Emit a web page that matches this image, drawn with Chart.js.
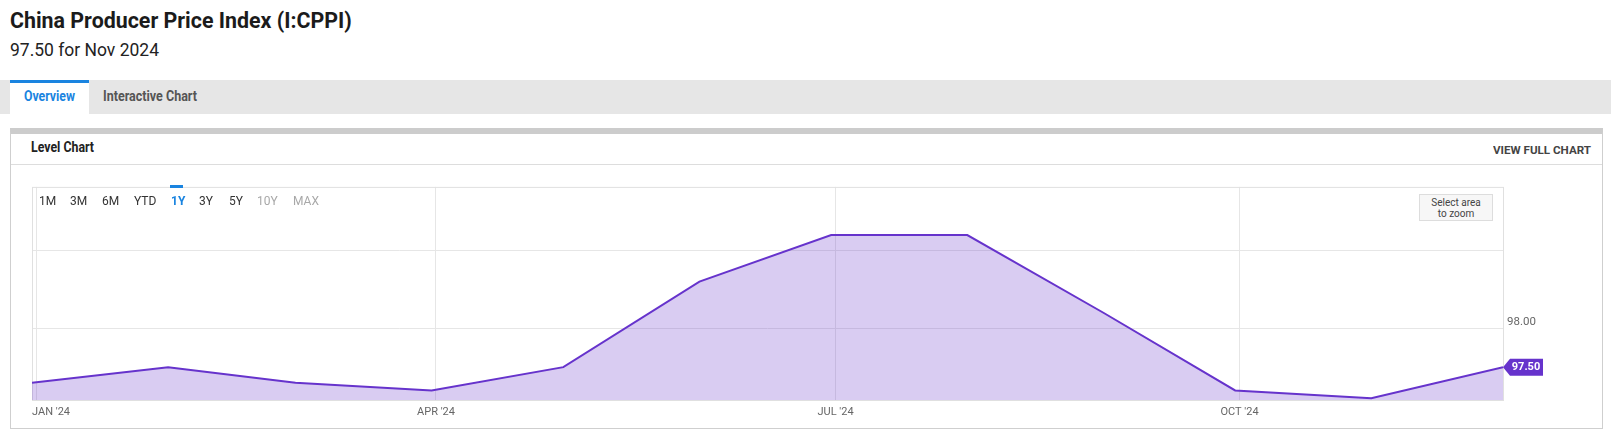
<!DOCTYPE html>
<html>
<head>
<meta charset="utf-8">
<script src="https://cdn.jsdelivr.net/npm/chart.js@4.4.0/dist/chart.umd.min.js"></script>
<style>
    body { margin: 0; width: 1611px; height: 446px; background: #fff; position: relative; overflow: hidden;
           font-family: Roboto, 'Noto Sans', sans-serif; color: #222; }
    .abs { position: absolute; white-space: nowrap; }
    .fit { transform-origin: 0 50%; }
    .tabbar { left: 0; top: 80px; width: 1611px; height: 34px; background: #e6e6e6; }
    .tab-on { left: 10px; top: 80px; width: 79px; height: 34px; background: #fff; border-top: 3px solid #1a84e0; box-sizing: border-box; }
    .panel { left: 10px; top: 128px; width: 1591px; height: 294px; border: 1px solid #cfcfcf; border-top: 6px solid #cccccc; }
    .sep { left: 11px; top: 164px; width: 1591px; height: 1px; background: #dddddd; }
    .rng { top: 194px; font-size: 12px; line-height: 14px; color: #333; }
    .zoombox { left: 1419px; top: 194px; width: 72px; height: 23px; background: #f7f7f7; border: 1px solid #dddddd;
               font-size: 10px; line-height: 11px; color: #444; text-align: center; padding-top: 2px; box-sizing: content-box; }
    #chartWrap { position: absolute; left: 11px; top: 176px; width: 1591px; height: 250px; }
</style>
</head>
<body>

<div class="abs fit" data-w="342" style="left:10px; top:6px; font-size:22.5px; line-height:28px; font-weight:700; color:#1b1b1b">China Producer Price Index (I:CPPI)</div>
<div class="abs fit" data-w="149" style="left:10px; top:39px; font-size:17.5px; line-height:22px; color:#222">97.50 for Nov 2024</div>

<div class="abs tabbar"></div>
<div class="abs tab-on"></div>
<div class="abs fit" data-w="51" style="left:24px; top:87px; font-size:14px; line-height:18px; font-weight:700; color:#1a84e0">Overview</div>
<div class="abs fit" data-w="94" style="left:103px; top:87px; font-size:14px; line-height:18px; font-weight:700; color:#555">Interactive Chart</div>

<div class="abs panel"></div>
<div class="abs sep"></div>
<div class="abs fit" data-w="63" style="left:31px; top:140px; font-size:14.5px; line-height:16px; font-weight:700; color:#222">Level Chart</div>
<div class="abs fit" data-w="98" style="left:1493px; top:143px; font-size:11.5px; line-height:14px; font-weight:700; color:#444">VIEW FULL CHART</div>

<div id="chartWrap"><canvas id="levelChart" width="1591" height="250"></canvas></div>

<div id="ranges"></div>
<div class="abs" style="left:170px; top:185px; width:13px; height:3px; background:#1a84e0"></div>
<div class="abs zoombox">Select area<br>to zoom</div>

<script>
// ===================================
// Data
// ===================================
const months = ['Dec 2023', 'Jan 2024', 'Feb 2024', 'Mar 2024', 'Apr 2024', 'May 2024',
                'Jun 2024', 'Jul 2024', 'Aug 2024', 'Sep 2024', 'Oct 2024', 'Nov 2024'];
const pointDates = ['2023-12-31', '2024-01-31', '2024-02-29', '2024-03-31', '2024-04-30', '2024-05-31',
                    '2024-06-30', '2024-07-31', '2024-08-31', '2024-09-30', '2024-10-31', '2024-11-30'];
const ppiValues = [97.3, 97.5, 97.3, 97.2, 97.5, 98.6, 99.2, 99.2, 98.2, 97.2, 97.1, 97.5];

const xTickDates = ['2024-01-01', '2024-04-01', '2024-07-01', '2024-10-01'];
const xTickLabels = ["JAN '24", "APR '24", "JUL '24", "OCT '24"];
const yTickValues = [98, 99];
const yTickLabels = ['98.00', ''];

const rangeButtons = ['1M', '3M', '6M', 'YTD', '1Y', '3Y', '5Y', '10Y', 'MAX'];
const rangeLeft = [39, 70, 102, 134, 171, 199, 229, 257, 293];

// days counted from Jan 1 2024
const dayOf = s => (Date.parse(s) - Date.parse('2024-01-01')) / 86400000;

const LINE = 'rgb(102, 51, 204)';
const FILL = 'rgba(102, 51, 204, 0.25)';
const GRID = '#e6e6e6';

// ===================================
// Page bits
// ===================================
const rangesEl = document.getElementById('ranges');
rangeButtons.forEach((r, i) => {
    const d = document.createElement('div');
    d.className = 'abs rng';
    d.style.left = rangeLeft[i] + 'px';
    d.textContent = r;
    if (r === '1Y') { d.style.color = '#1a84e0'; d.style.fontWeight = '700'; }
    if (r === '10Y' || r === 'MAX') d.style.color = '#a8a8a8';
    rangesEl.appendChild(d);
});

// squeeze text to reference width (condensed font look)
document.querySelectorAll('.fit').forEach(el => {
    const w = el.getBoundingClientRect().width;
    el.style.transform = 'scaleX(' + (Number(el.dataset.w) / w).toFixed(3) + ')';
});

// ===================================
// Plugins
// ===================================
const frameAndLabels = {
    id: 'frameAndLabels',
    beforeDatasetsDraw(chart) {
        const { ctx, chartArea: a } = chart;
        ctx.save();
        ctx.strokeStyle = '#e0e0e0';
        ctx.lineWidth = 1;
        ctx.strokeRect(a.left + 0.5, a.top + 0.5, a.right - a.left, a.bottom - a.top);
        ctx.restore();
    },
    afterDraw(chart) {
        const { ctx, chartArea: a } = chart;
        const x = chart.scales.x;
        ctx.save();
        ctx.font = '11px Roboto';
        ctx.fillStyle = '#666';
        ctx.textBaseline = 'middle';
        xTickDates.forEach((d, i) => {
            const px = x.getPixelForValue(dayOf(d));
            const w = ctx.measureText(xTickLabels[i]).width;
            ctx.fillText(xTickLabels[i], Math.max(px - w / 2, a.left), a.bottom + 12);
        });
        ctx.restore();
    }
};

const lastBadge = {
    id: 'lastBadge',
    afterDatasetsDraw(chart) {
        const { ctx } = chart;
        const meta = chart.getDatasetMeta(0);
        const pt = meta.data[meta.data.length - 1];
        const x = pt.x, y = pt.y;
        ctx.save();
        ctx.fillStyle = LINE;
        ctx.beginPath();
        ctx.moveTo(x, y);
        ctx.lineTo(x + 7, y - 8.5);
        ctx.lineTo(x + 40, y - 8.5);
        ctx.lineTo(x + 40, y + 8.5);
        ctx.lineTo(x + 7, y + 8.5);
        ctx.closePath();
        ctx.fill();
        ctx.fillStyle = '#fff';
        ctx.font = 'bold 11px Roboto';
        ctx.textAlign = 'center';
        ctx.textBaseline = 'middle';
        ctx.fillText(ppiValues[ppiValues.length - 1].toFixed(2), x + 23, y + 0.5);
        ctx.restore();
    }
};

// ===================================
// Chart
// ===================================
new Chart(document.getElementById('levelChart'), {
    type: 'line',
    data: {
        labels: months,
        datasets: [{
            label: 'China Producer Price Index',
            data: ppiValues.map((v, i) => ({ x: dayOf(pointDates[i]), y: v })),
            borderColor: LINE,
            backgroundColor: FILL,
            borderWidth: 2,
            fill: 'start',
            tension: 0,
            pointRadius: 0
        }]
    },
    options: {
        responsive: false,
        animation: false,
        devicePixelRatio: 1,
        layout: { padding: { left: 21, top: 10, right: 0, bottom: 0 } },
        plugins: {
            legend: { display: false },
            tooltip: { enabled: false }
        },
        scales: {
            x: {
                type: 'linear',
                min: dayOf('2023-12-31'),
                max: dayOf('2024-11-30'),
                afterBuildTicks: s => { s.ticks = xTickDates.map(d => ({ value: dayOf(d) })); },
                afterFit: s => { s.height = 26; },
                grid: { color: GRID, drawTicks: false },
                border: { display: false },
                ticks: { display: false }
            },
            y: {
                position: 'right',
                min: 97.077,
                max: 99.82,
                afterBuildTicks: s => { s.ticks = yTickValues.map(v => ({ value: v })); },
                afterFit: s => { s.width = 99; },
                grid: { color: GRID, drawTicks: false },
                border: { display: false },
                ticks: {
                    padding: 4,
                    labelOffset: -6,
                    color: '#666',
                    font: { family: 'Roboto', size: 11.5 },
                    callback: (v, i) => yTickLabels[i]
                }
            }
        }
    },
    plugins: [frameAndLabels, lastBadge]
});
</script>
</body>
</html>
